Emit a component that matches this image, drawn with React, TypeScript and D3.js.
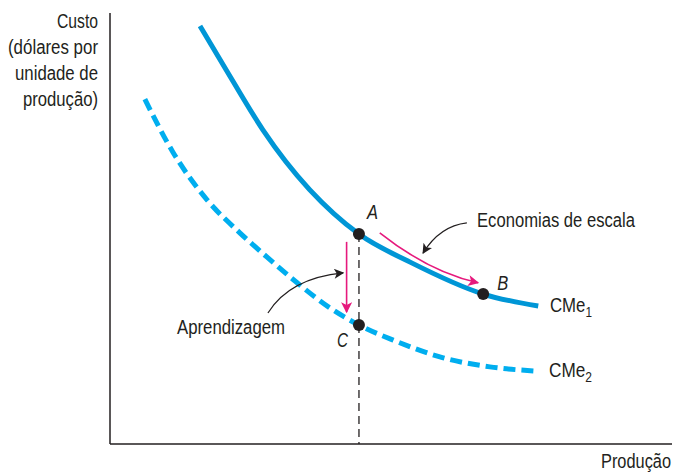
import React from 'react';
import * as d3 from 'd3';

// Curves (x = produção, y = custo, both 0..100)
const cme1: [number, number][] = [
  [16.0, 97.0], [21.4, 85.2], [27.2, 72.9], [44.3, 48.7],
  [53.4, 42.2], [66.4, 34.8], [76.2, 32.0],
];
const cme2: [number, number][] = [
  [6.2, 80.0], [11.2, 67.7], [17.3, 56.6], [23.1, 49.0], [27.9, 43.4],
  [33.3, 37.4], [39.1, 31.6], [44.3, 27.6], [50.4, 24.1], [59.3, 20.0],
  [67.6, 17.9], [76.0, 16.9],
];
const points = [
  { name: 'A', x: 44.3, y: 48.7 },
  { name: 'B', x: 66.4, y: 34.8 },
  { name: 'C', x: 44.3, y: 27.6 },
];
// annotation arrows: start, control, end
const pinkArrows: [number, number][][] = [
  [[48.0, 49.0], [56.8, 39.9], [65.5, 37.4]],
  [[42.1, 46.9], [42.1, 38.7], [42.1, 30.6]],
];
const blackArrows: [number, number][][] = [
  [[63.5, 51.3], [58.7, 50.6], [55.7, 44.3]],
  [[28.1, 30.4], [32.0, 38.5], [41.5, 39.7]],
];
const yLabel = ['Custo', '(dólares por', 'unidade de', 'produção)'];
const yLabelWidths = [41, 90, 83, 75];

const W = 674;
const H = 474;
const left = 110;
const right = 672;
const top = 13;
const bottom = 444;

const x = d3.scaleLinear().domain([0, 100]).range([left, right]);
const y = d3.scaleLinear().domain([0, 100]).range([bottom, top]);

const line = d3.line<[number, number]>()
  .x(d => x(d[0]))
  .y(d => y(d[1]))
  .curve(d3.curveMonotoneX);

const arrowPath = (p: [number, number][]) => {
  const path = d3.path();
  path.moveTo(x(p[0][0]), y(p[0][1]));
  path.quadraticCurveTo(x(p[1][0]), y(p[1][1]), x(p[2][0]), y(p[2][1]));
  return path.toString();
};

const font = '"Liberation Sans", Arial, sans-serif';
const textColor = '#231f20';

// condensed-looking text: squeeze to the width measured on the reference
const T = (props: { x: number; y: number; w: number; size?: number; italic?: boolean; anchor?: string; children: React.ReactNode }) => (
  <text x={props.anchor === 'end' ? props.x - props.w : props.x} y={props.y} fontSize={props.size ?? 20}
    fontStyle={props.italic ? 'italic' : 'normal'} fill={textColor}
    textLength={props.w} lengthAdjust="spacingAndGlyphs">{props.children}</text>
);

export default function App() {
  const [A, B, C] = points;
  const e1 = cme1[cme1.length - 1];
  const e2 = cme2[cme2.length - 1];
  return (
    <svg width={W} height={H} style={{ position: 'absolute', left: 0, top: 0 }} fontFamily={font}>
      <defs>
        <marker id="pinkHead" viewBox="0 0 10 10" refX="9" refY="5" markerWidth="13" markerHeight="11"
          markerUnits="userSpaceOnUse" orient="auto">
          <path d="M0,0 L10,5 L0,10 L2.5,5 Z" fill="#e6197d" />
        </marker>
        <marker id="blackHead" viewBox="0 0 10 10" refX="9" refY="5" markerWidth="12" markerHeight="10"
          markerUnits="userSpaceOnUse" orient="auto">
          <path d="M0,0 L10,5 L0,10 L2.5,5 Z" fill={textColor} />
        </marker>
      </defs>

      {/* axes */}
      <line x1={left} x2={left} y1={top} y2={bottom} stroke={textColor} strokeWidth={1.5} />
      <line x1={left} x2={right} y1={bottom} y2={bottom} stroke={textColor} strokeWidth={1.5} />

      {/* vertical dashed line through A and C */}
      <line x1={x(A.x)} x2={x(A.x)} y1={y(A.y)} y2={bottom} stroke={textColor}
        strokeWidth={1.3} strokeDasharray="8 5" />

      {/* cost curves */}
      <path d={line(cme2) ?? ''} fill="none" stroke="#00aeef" strokeWidth={5} strokeDasharray="12 6" />
      <path d={line(cme1) ?? ''} fill="none" stroke="#0096d6" strokeWidth={5} />

      {/* arrows */}
      {pinkArrows.map((p, i) => (
        <path key={'p' + i} d={arrowPath(p)} fill="none" stroke="#e6197d" strokeWidth={1.6}
          markerEnd="url(#pinkHead)" />
      ))}
      {blackArrows.map((p, i) => (
        <path key={'b' + i} d={arrowPath(p)} fill="none" stroke={textColor} strokeWidth={1.2}
          markerEnd="url(#blackHead)" />
      ))}

      {/* points */}
      {points.map(p => (
        <circle key={p.name} cx={x(p.x)} cy={y(p.y)} r={6} fill={textColor} />
      ))}

      {/* point labels */}
      <T x={x(A.x) + 8} y={y(A.y) - 15} w={11} italic>A</T>
      <T x={x(B.x) + 14} y={y(B.y) - 4} w={11} italic>B</T>
      <T x={x(C.x) - 22} y={y(C.y) + 22} w={11} italic>C</T>

      {/* curve labels */}
      <T x={550} y={y(e1[1]) + 6} w={42}>CMe<tspan fontSize={14} dy={5}>1</tspan></T>
      <T x={549} y={y(e2[1]) + 6} w={43}>CMe<tspan fontSize={14} dy={5}>2</tspan></T>

      <T x={477} y={227} w={158}>Economias de escala</T>
      <T x={177} y={334} w={108}>Aprendizagem</T>

      {/* axis titles */}
      {yLabel.map((t, i) => (
        <T key={t} x={98} y={28 + i * 26} w={yLabelWidths[i]} anchor="end">{t}</T>
      ))}
      <T x={671} y={468} w={70} anchor="end">Produção</T>
    </svg>
  );
}
